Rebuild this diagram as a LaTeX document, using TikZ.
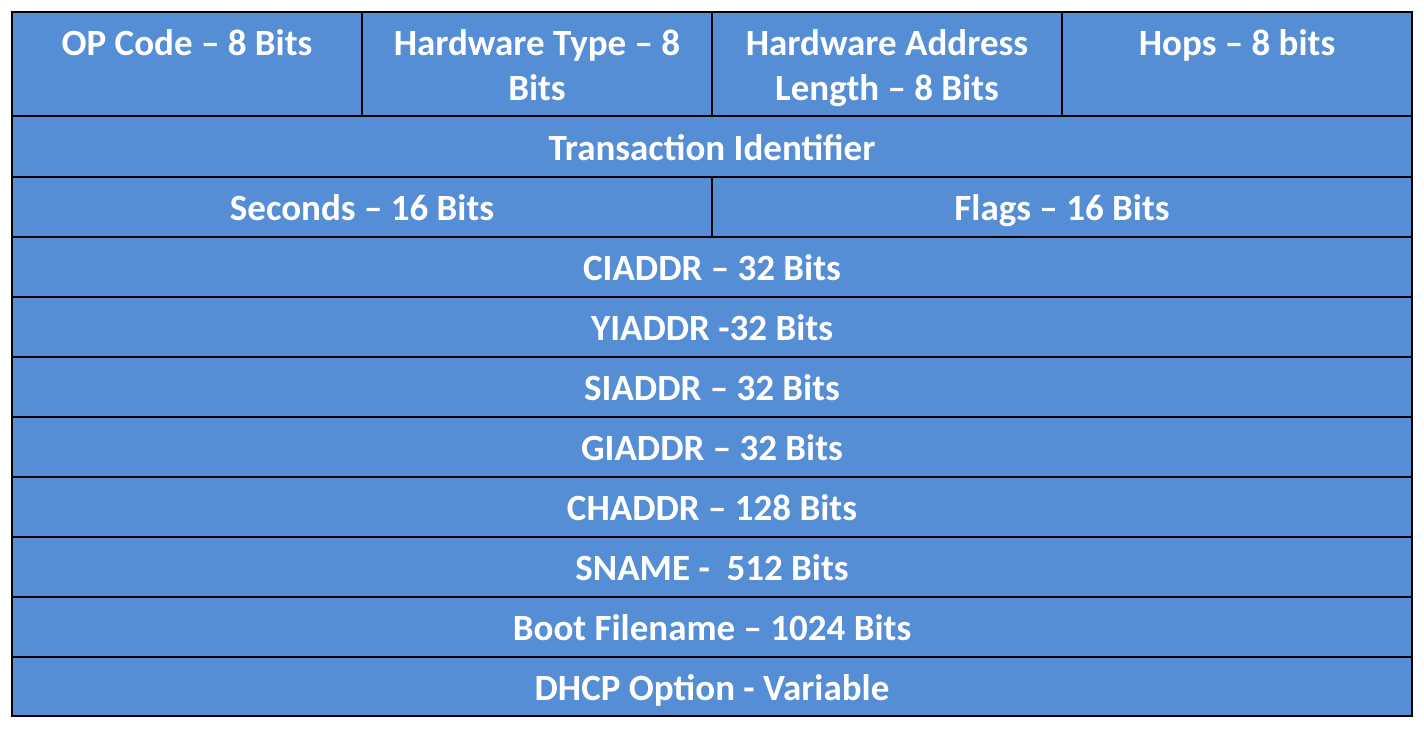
\documentclass[tikz,border=0pt]{standalone}
\usepackage{fontspec}
\setmainfont{Carlito}
\definecolor{cellblue}{HTML}{558ED5}
\begin{document}
\begin{tikzpicture}[x=1pt,y=-1pt,
  cell/.style={draw=black,line width=1.8pt,fill=cellblue,inner sep=0pt,outer sep=0pt,anchor=north west},
  lbl/.style={anchor=base,inner sep=0pt,text=white,font=\fontsize{37}{45}\selectfont\bfseries,align=center}]
\path[use as bounding box,fill=white] (0,0) rectangle (1424,729);
% row 1
\node[cell,minimum width=350pt,minimum height=104pt] (c11) at (12,12) {};
\node[cell,minimum width=350pt,minimum height=104pt] (c12) at (362,12) {};
\node[cell,minimum width=350pt,minimum height=104pt] (c13) at (712,12) {};
\node[cell,minimum width=350pt,minimum height=104pt] (c14) at (1062,12) {};
\node[lbl] (t11) at (187,55) {OP Code – 8 Bits};
\node[lbl,anchor=north] (t12) at (537,29) {Hardware Type – 8\\Bits};
\node[lbl,anchor=north] (t13) at (887,29) {Hardware Address\\Length – 8 Bits};
\node[lbl] (t14) at (1237,55) {Hops – 8 bits};
% row 2
\node[cell,minimum width=1400pt,minimum height=61pt] (c2) at (12,116) {};
\node[lbl] (t2) at (712,160) {Transaction Identifier};
% row 3
\node[cell,minimum width=700pt,minimum height=60pt] (c31) at (12,177) {};
\node[cell,minimum width=700pt,minimum height=60pt] (c32) at (712,177) {};
\node[lbl] (t31) at (362,220) {Seconds – 16 Bits};
\node[lbl] (t32) at (1062,220) {Flags – 16 Bits};
% full rows
\foreach \n/\y/\t in {4/237/{CIADDR – 32 Bits},5/297/{YIADDR -32 Bits},6/357/{SIADDR – 32 Bits},7/417/{GIADDR – 32 Bits},8/477/{CHADDR – 128 Bits},9/537/{SNAME -\ \ 512 Bits},10/597/{Boot Filename – 1024 Bits}}{
  \node[cell,minimum width=1400pt,minimum height=60pt] (c\n) at (12,\y) {};
  \node[lbl] (t\n) at (712,\y+43) {\t};
}
\node[cell,minimum width=1400pt,minimum height=59pt] (c11r) at (12,657) {};
\node[lbl] (t11r) at (712,700) {DHCP Option - Variable};
\end{tikzpicture}
\end{document}
